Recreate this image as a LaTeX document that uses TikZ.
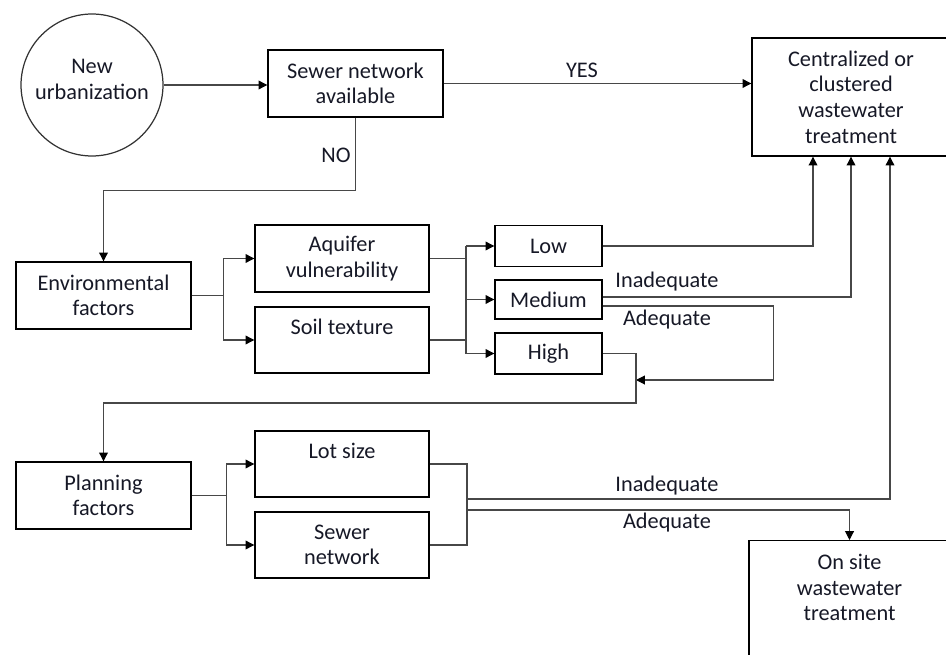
\documentclass[tikz,border=0pt]{standalone}
\usepackage{fontspec}
\setmainfont{Carlito}
\usetikzlibrary{arrows.meta,positioning}
\definecolor{txtcol}{RGB}{22,24,38}

\begin{document}
\begin{tikzpicture}[x=0.02cm, y=-0.02cm,
    font=\fontsize{12.7}{14.6}\selectfont, text=txtcol,
    box/.style={draw=black, line width=0.8pt, align=center, inner sep=0pt,
                minimum width=3.48cm, minimum height=1.34cm},
    grade/.style={box, minimum width=2.14cm, minimum height=0.82cm},
    link/.style={draw=black!72, line width=0.6pt},
    arr/.style={link, -{Triangle[length=5pt, width=5pt, color=black]}},
    lbl/.style={inner sep=1pt}]

    \useasboundingbox (0,0) rectangle (946,655);
    \clip (0,0) rectangle (946,655);

    % Start and sewer check
    \node[draw=black!80, line width=0.7pt, circle, minimum size=2.84cm, align=center, inner sep=0pt]
         (urb) at (92,85) {New\\urbanization\\[-8pt]\mbox{}};
    \node[box, minimum width=3.5cm] (sewav) at (355.5,83.5) {Sewer network\\available};
    \node[box, minimum width=3.96cm, minimum height=2.36cm]
         (central) at (851,97) {Centralized or\\clustered\\wastewater\\treatment};

    % Environmental branch
    \node[box, minimum width=3.5cm] (env) at (103.5,295.5) {Environmental\\factors};
    \node[box] (aqu) at (342,258.5) {Aquifer\\vulnerability};
    \node[box, minimum height=1.32cm] (soil) at (342,340) {Soil texture\\\mbox{}};
    \node[grade] (low) at (548.5,246) {Low};
    \node[grade, minimum height=0.78cm] (med) at (548.5,299.5) {Medium};
    \node[grade] (high) at (548.5,353.5) {High};

    % Planning branch
    \node[box, minimum width=3.5cm] (plan) at (103.5,495.5) {Planning\\factors};
    \node[box, minimum height=1.32cm] (lot) at (342,464) {Lot size\\\mbox{}};
    \node[box, minimum height=1.32cm] (sewnet) at (342,545) {Sewer\\network};
    \node[box, minimum width=4.02cm, minimum height=2.8cm, anchor=north] (onsite) at (849.5,540) {};
    \node[align=center, anchor=north] (onsitetxt) at (849.5,548) {On site\\wastewater\\treatment};

    % Bend points
    \coordinate (efork) at (466,300);
    \coordinate (hdrop) at (636,403);
    \coordinate (hjoin) at (636,380);
    \coordinate (pfork) at (467,500);
    \coordinate (pinad) at (467,499);
    \coordinate (pad) at (467,510);

    % Sewer available?
    \draw[arr] (urb) -- (urb -| sewav.west);
    \draw[arr] (sewav.east) -- (sewav.east -| central.west);
    \node[lbl] (yes) at (582,70) {YES};
    \draw[arr] (sewav.south) -- ++(0,73) -| (env.north);
    \node[lbl] (no) at (336,155) {NO};

    % Environmental connectors
    \draw[arr] (env.east) -- ++(32,0) |- (aqu.west);
    \draw[arr] (env.east) -- ++(32,0) |- (soil.west);
    \draw[link] (aqu.east) -- (aqu.east -| efork);
    \draw[link] (soil.east) -- (soil.east -| efork);
    \draw[link] (efork |- low) -- (efork |- high);
    \draw[arr] (efork |- low) -- (low.west);
    \draw[arr] (efork |- med) -- (med.west);
    \draw[arr] (efork |- high) -- (high.west);

    \draw[arr] (low.east) -| ([xshift=-0.76cm]central.south);
    \draw[arr] ([yshift=0.05cm]med.east) -| (central.south);
    \node[lbl] (inadA) at (667,282) {Inadequate};
    \draw[arr] ([yshift=-0.13cm]med.east) -- ++(171,0) |- (hjoin);
    \node[lbl] (adA) at (667,320) {Adequate};
    \draw[arr] (high.east) -| (hdrop) -| (plan.north);

    % Planning connectors
    \draw[arr] (plan.east) -- ++(35,0) |- (lot.west);
    \draw[arr] (plan.east) -- ++(35,0) |- (sewnet.west);
    \draw[link] (lot.east) -| (pfork |- sewnet.east) -- (sewnet.east);
    \draw[arr] (pinad) -| ([xshift=0.78cm]central.south);
    \node[lbl] (inadB) at (667,486) {Inadequate};
    \draw[arr] (pad) -| (onsite.north);
    \node[lbl] (adB) at (667,523) {Adequate};

\end{tikzpicture}
\end{document}
